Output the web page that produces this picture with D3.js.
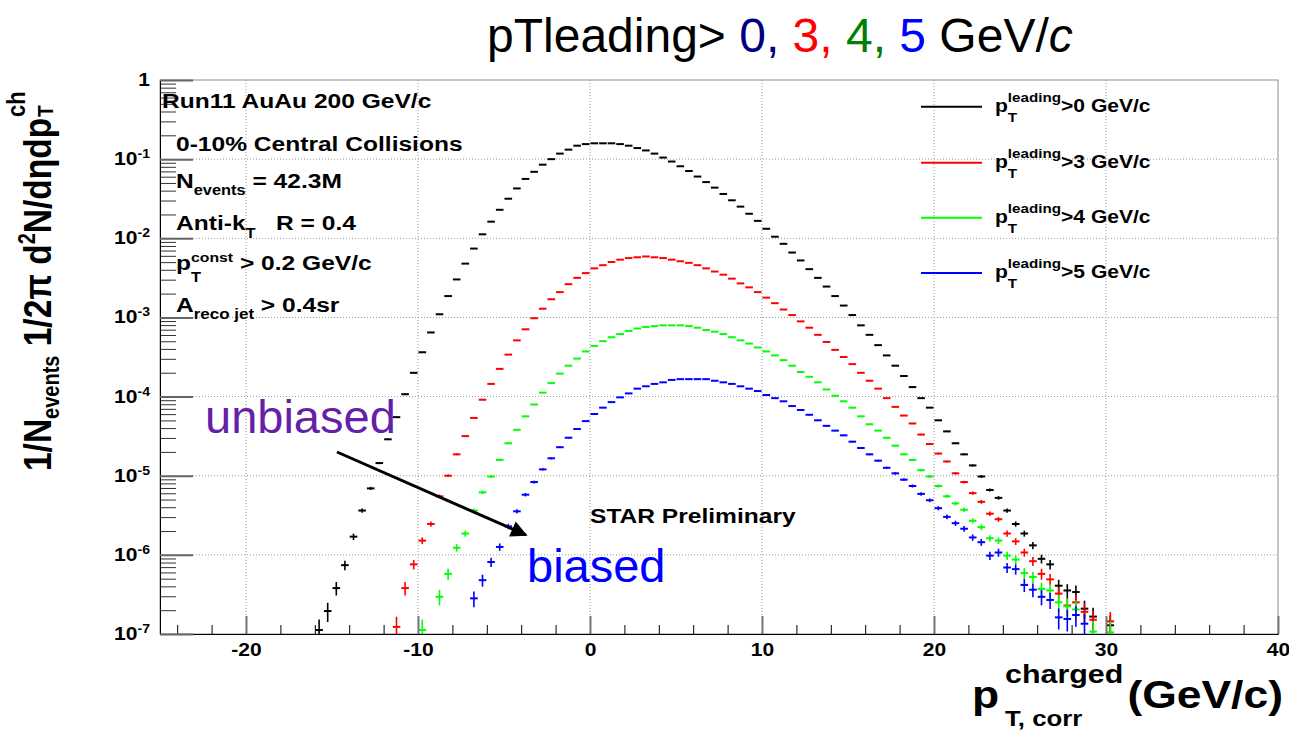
<!DOCTYPE html>
<html>
<head>
<meta charset="utf-8">
<script src="https://cdn.jsdelivr.net/npm/d3@7"></script>
<style>
  body { margin: 0; background: #fff; }
  text { font-family: "Liberation Sans", Arial, Helvetica, sans-serif; white-space: pre; }
</style>
</head>
<body>
<svg id="chart" width="1289" height="731"></svg>
<script>
var binWidth = 0.5;
var seriesLabels = [">0 GeV/c", ">3 GeV/c", ">4 GeV/c", ">5 GeV/c"];
var seriesColors = ["#000000", "#ff0000", "#00ff00", "#0000ff"];
var firstBinCenter = [-15.75, -11.25, -9.75, -6.75];

var logYieldPt0 = [
  -6.95, -6.71, -6.42, -6.13, -5.77, -5.44, -5.16, -4.84, -4.54, -4.26,
  -3.97, -3.70, -3.44, -3.19, -2.96, -2.73, -2.52, -2.32, -2.13, -1.95,
  -1.79, -1.64, -1.50, -1.37, -1.25, -1.16, -1.07, -1.00, -0.93, -0.88,
  -0.83, -0.81, -0.80, -0.80, -0.80, -0.81, -0.83, -0.86, -0.89, -0.93,
  -0.98, -1.03, -1.09, -1.15, -1.22, -1.29, -1.36, -1.44, -1.52, -1.60,
  -1.69, -1.78, -1.88, -1.98, -2.07, -2.18, -2.28, -2.39, -2.50, -2.61,
  -2.73, -2.85, -2.97, -3.10, -3.22, -3.35, -3.48, -3.61, -3.74, -3.88,
  -4.02, -4.14, -4.30, -4.44, -4.59, -4.73, -4.87, -5.01, -5.18, -5.28,
  -5.44, -5.61, -5.73, -5.88, -6.05, -6.12, -6.39, -6.45, -6.47, -6.68,
  -6.78, null, -6.89
];
var logYieldPt3 = [
  -6.91, -6.42, -6.12, -5.82, -5.61, -5.26, -5.00, -4.73, -4.50, -4.27,
  -4.04, -3.84, -3.65, -3.47, -3.29, -3.15, -3.01, -2.89, -2.77, -2.68,
  -2.58, -2.50, -2.44, -2.38, -2.34, -2.30, -2.27, -2.25, -2.24, -2.23,
  -2.24, -2.25, -2.27, -2.29, -2.31, -2.34, -2.38, -2.42, -2.46, -2.51,
  -2.57, -2.62, -2.68, -2.75, -2.82, -2.90, -2.97, -3.05, -3.13, -3.22,
  -3.31, -3.41, -3.50, -3.59, -3.70, -3.80, -3.90, -4.02, -4.13, -4.24,
  -4.34, -4.48, -4.60, -4.72, -4.82, -4.97, -5.08, -5.22, -5.33, -5.48,
  -5.55, -5.73, -5.83, -5.97, -6.08, -6.24, -6.31, -6.49, -6.64, -6.60,
  -6.72, -6.82, null, -6.84
];
var logYieldPt4 = [
  -6.95, null, -6.53, -6.24, -5.91, -5.73, -5.44, -5.21, -5.01, -4.80,
  -4.59, -4.42, -4.25, -4.10, -3.95, -3.83, -3.71, -3.61, -3.52, -3.43,
  -3.36, -3.30, -3.25, -3.21, -3.17, -3.14, -3.12, -3.11, -3.10, -3.10,
  -3.10, -3.11, -3.13, -3.16, -3.18, -3.21, -3.25, -3.29, -3.33, -3.38,
  -3.43, -3.48, -3.54, -3.61, -3.69, -3.75, -3.82, -3.91, -3.99, -4.06,
  -4.14, -4.25, -4.35, -4.43, -4.52, -4.62, -4.73, -4.80, -4.93, -5.01,
  -5.13, -5.26, -5.35, -5.43, -5.57, -5.65, -5.79, -5.82, -6.01, -6.06,
  -6.23, -6.28, -6.43, -6.45, -6.60, -6.65, -6.69, null, -6.97, null,
  -6.98
];
var logYieldPt5 = [
  -6.55, -6.32, -6.09, -5.90, -5.64, -5.45, -5.24, -5.08, -4.92, -4.78,
  -4.64, -4.52, -4.41, -4.31, -4.22, -4.14, -4.07, -4.01, -3.96, -3.90,
  -3.87, -3.84, -3.82, -3.79, -3.78, -3.78, -3.78, -3.78, -3.80, -3.82,
  -3.84, -3.87, -3.90, -3.93, -3.98, -4.02, -4.06, -4.12, -4.17, -4.23,
  -4.30, -4.37, -4.43, -4.49, -4.57, -4.65, -4.73, -4.81, -4.90, -4.97,
  -5.05, -5.13, -5.23, -5.31, -5.41, -5.52, -5.60, -5.67, -5.78, -5.84,
  -6.01, -5.97, -6.16, -6.18, -6.38, -6.44, -6.53, -6.57, -6.79, -6.81,
  -6.76, -6.87
];
var allLogYields = [logYieldPt0, logYieldPt3, logYieldPt4, logYieldPt5];

var xTicks = [-20, -10, 0, 10, 20, 30, 40];
var yDecades = [0, -1, -2, -3, -4, -5, -6, -7];

// statistical error: relative error ~ 12% at 1e-6, scaling as 1/sqrt(yield)
var errAt1e6 = 0.12;

var SX = 1.17; // the ROOT canvas is a bit stretched sideways on the slide

var svg = d3.select("#chart");
var plot = {left: 160, right: 1278, top: 80, bottom: 634};

var x = d3.scaleLinear().domain([-25, 40]).range([plot.left, plot.right]);
var y = d3.scaleLog().domain([1e-7, 1]).range([plot.bottom, plot.top]);

// grid
svg.append("g").selectAll("line")
  .data(xTicks.filter(function(t) { return t > -25 && t < 40; }))
  .join("line")
  .attr("x1", function(d) { return x(d); }).attr("x2", function(d) { return x(d); })
  .attr("y1", plot.top).attr("y2", plot.bottom)
  .attr("stroke", "#9a9a9a").attr("stroke-dasharray", "1,2");
svg.append("g").selectAll("line")
  .data(yDecades.filter(function(k) { return k < 0 && k > -7; }))
  .join("line")
  .attr("x1", plot.left).attr("x2", plot.right)
  .attr("y1", function(k) { return y(Math.pow(10, k)); })
  .attr("y2", function(k) { return y(Math.pow(10, k)); })
  .attr("stroke", "#9a9a9a").attr("stroke-dasharray", "1,2");

// frame
svg.append("rect")
  .attr("x", plot.left).attr("y", plot.top)
  .attr("width", plot.right - plot.left).attr("height", plot.bottom - plot.top)
  .attr("fill", "none").attr("stroke", "#8c8c8c");

svg.append("clipPath").attr("id", "clip").append("rect")
  .attr("x", plot.left).attr("y", plot.top)
  .attr("width", plot.right - plot.left).attr("height", plot.bottom - plot.top);

// histograms
var dataG = svg.append("g").attr("clip-path", "url(#clip)");
allLogYields.forEach(function(vals, s) {
  var pts = [];
  vals.forEach(function(l, i) {
    if (l === null) return;
    pts.push({c: firstBinCenter[s] + i * binWidth, v: Math.pow(10, l)});
  });
  var g = dataG.append("g").attr("stroke", seriesColors[s]);
  g.selectAll("line.err").data(pts).join("line")
    .attr("class", "err")
    .attr("x1", function(d) { return x(d.c); }).attr("x2", function(d) { return x(d.c); })
    .attr("y1", function(d) { var r = errAt1e6 * Math.sqrt(1e-6 / d.v); return y(d.v * (1 + r)); })
    .attr("y2", function(d) { var r = errAt1e6 * Math.sqrt(1e-6 / d.v); return y(Math.max(d.v * (1 - r), 1e-8)); })
    .attr("stroke-width", 1.6);
  g.selectAll("line.bin").data(pts).join("line")
    .attr("class", "bin")
    .attr("x1", function(d) { return x(d.c - binWidth / 2) + 0.5; })
    .attr("x2", function(d) { return x(d.c + binWidth / 2) - 0.5; })
    .attr("y1", function(d) { return y(d.v); }).attr("y2", function(d) { return y(d.v); })
    .attr("stroke-width", 2);
});

// axes
var xMinor = d3.range(-24, 40, 2).filter(function(t) { return t % 10 !== 0; });
svg.append("g").attr("transform", "translate(0," + plot.bottom + ")")
  .call(d3.axisBottom(x).tickValues(xMinor).tickSize(-9).tickFormat(""))
  .call(function(g) { g.select(".domain").remove(); });
var xAxis = svg.append("g").attr("transform", "translate(0," + plot.bottom + ")")
  .call(d3.axisBottom(x).tickValues(xTicks).tickSize(-18).tickPadding(9)
    .tickFormat(function(d) { return String(d); }));
xAxis.select(".domain").attr("stroke", "#000");
xAxis.selectAll(".tick line").attr("stroke", "#777").attr("stroke-width", 2);
xAxis.selectAll(".tick text")
  .attr("font-size", 18).attr("font-weight", "bold").attr("fill", "#000")
  .attr("font-family", "Liberation Sans, Arial, sans-serif")
  .attr("transform", "scale(" + SX + ",1)");

var yMinor = [];
yDecades.forEach(function(k) {
  if (k === 0) return;
  for (var m = 2; m <= 9; m++) yMinor.push(m * Math.pow(10, k));
});
svg.append("g").attr("transform", "translate(" + plot.left + ",0)")
  .call(d3.axisLeft(y).tickValues(yMinor).tickSize(-16).tickFormat(""))
  .call(function(g) { g.select(".domain").remove(); g.selectAll("line").attr("stroke", "#333"); });
var yAxis = svg.append("g").attr("transform", "translate(" + plot.left + ",0)")
  .call(d3.axisLeft(y).tickValues(yDecades.map(function(k) { return Math.pow(10, k); }))
    .tickSize(-33).tickFormat(""));
yAxis.select(".domain").attr("stroke", "#000");
yAxis.selectAll(".tick line").attr("stroke", "#666").attr("stroke-width", 2);

// helper: bold text with sub/superscript tspans, returns its length
function label(g, x0, y0, parts, size, anchor) {
  var t = g.append("text").attr("x", x0).attr("y", y0)
    .attr("font-size", size).attr("font-weight", "bold")
    .attr("text-anchor", anchor || "start");
  var off = 0;
  parts.forEach(function(p) {
    var dy = p.dy || 0;
    t.append("tspan").attr("dy", dy - off).attr("font-size", p.size || size).text(p.t);
    off = dy;
  });
  return t.node().getComputedTextLength();
}
function stretched(tx, ty) {
  return svg.append("g").attr("transform", "translate(" + tx + "," + ty + ") scale(" + SX + ",1)");
}

// y tick labels
yDecades.forEach(function(k) {
  var g = stretched(150, y(Math.pow(10, k)) + 6);
  var t = g.append("text").attr("text-anchor", "end")
    .attr("font-size", 18).attr("font-weight", "bold");
  if (k === 0) {
    t.text("1");
  } else {
    t.append("tspan").text("10");
    t.append("tspan").attr("dy", -7).attr("font-size", 12).text(String(k));
  }
});

// y axis title
var yt = svg.append("g").attr("transform", "translate(51,471) scale(" + SX + ",1) rotate(-90)");
var L = label(yt, 0, 0, [
  {t: "1/N"}, {t: "events", size: 20, dy: 7}, {t: " 1/2\u03c0 d"},
  {t: "2", size: 20, dy: -14}, {t: "N/d\u03b7dp"}
], 33.5);
label(yt, L + 1, -22, [{t: "ch"}], 22);
label(yt, L + 1, 2, [{t: "T"}], 19);

// x axis title
var xt = stretched(972, 708);
var wp = label(xt, 0, 0, [{t: "p"}], 38);
label(xt, wp + 5, -25, [{t: "charged"}], 26);
label(xt, wp + 5, 18, [{t: "T, corr"}], 22);
label(xt, (1283 - 972) / SX, 0, [{t: "(GeV/c)"}], 38, "end");

// info block
var info = stretched(162, 108);
label(info, 0, 0, [{t: "Run11 AuAu 200 GeV/c"}], 21);
info = stretched(176, 151);
label(info, 0, 0, [{t: "0-10% Central Collisions"}], 21);
info = stretched(176, 188);
label(info, 0, 0, [{t: "N"}, {t: "events", size: 14, dy: 7}, {t: " = 42.3M"}], 21);
info = stretched(176, 230);
label(info, 0, 0, [{t: "Anti-k"}, {t: "T", size: 14, dy: 8}, {t: "   R = 0.4"}], 21);
info = stretched(176, 270);
var wpc = label(info, 0, 0, [{t: "p"}], 21);
var wc1 = label(info, wpc, -8, [{t: "const"}], 13.5);
var wc2 = label(info, wpc, 12, [{t: "T"}], 14);
label(info, wpc + Math.max(wc1, wc2), 0, [{t: " > 0.2 GeV/c"}], 21);
info = stretched(176, 312);
label(info, 0, 0, [{t: "A"}, {t: "reco jet", size: 14.5, dy: 7}, {t: " > 0.4sr"}], 21);

// legend
var legendY = [106.7, 162.7, 217.7, 273];
seriesLabels.forEach(function(txt, s) {
  svg.append("line")
    .attr("x1", 921).attr("x2", 982)
    .attr("y1", legendY[s]).attr("y2", legendY[s])
    .attr("stroke", seriesColors[s]).attr("stroke-width", 2);
  var g = stretched(995, legendY[s] + 5);
  var w = label(g, 0, 0, [{t: "p"}], 18);
  var a = label(g, w, -10, [{t: "leading"}], 13);
  var b = label(g, w, 10, [{t: "T"}], 13);
  label(g, w + Math.max(a, b), 0, [{t: txt}], 18);
});

// STAR Preliminary
label(stretched(590, 523), 0, 0, [{t: "STAR Preliminary"}], 21);

// slide annotations
svg.append("text").attr("x", 205).attr("y", 433)
  .attr("font-size", 47).attr("fill", "#661fa8").text("unbiased");
svg.append("text").attr("x", 527).attr("y", 582)
  .attr("font-size", 47).attr("fill", "#0000ff").text("biased");

svg.append("defs").append("marker")
  .attr("id", "arrow").attr("viewBox", "0 0 10 10")
  .attr("refX", 9).attr("refY", 5)
  .attr("markerWidth", 6).attr("markerHeight", 5.5)
  .attr("markerUnits", "strokeWidth").attr("orient", "auto")
  .append("path").attr("d", "M0,0 L10,5 L0,10 z").attr("fill", "#000");
svg.append("line")
  .attr("x1", 337).attr("y1", 452).attr("x2", 526).attr("y2", 535)
  .attr("stroke", "#000").attr("stroke-width", 3)
  .attr("marker-end", "url(#arrow)");

// title
var title = svg.append("text").attr("x", 487).attr("y", 52).attr("font-size", 48);
title.append("tspan").attr("fill", "#000").text("pTleading> ");
title.append("tspan").attr("fill", "#000080").text("0, ");
title.append("tspan").attr("fill", "#ff0000").text("3, ");
title.append("tspan").attr("fill", "#008000").text("4, ");
title.append("tspan").attr("fill", "#0000ff").text("5 ");
title.append("tspan").attr("fill", "#000").text("GeV/");
title.append("tspan").attr("fill", "#000").attr("font-style", "italic").text("c");
</script>
</body>
</html>
